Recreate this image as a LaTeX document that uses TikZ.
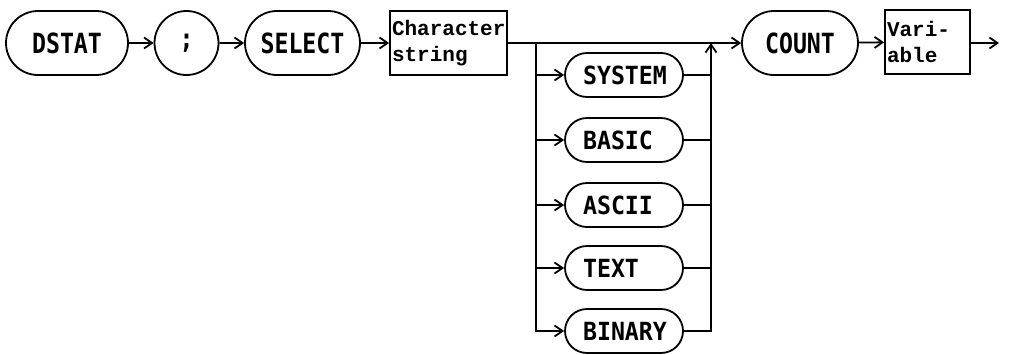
\documentclass[tikz,border=0pt]{standalone}
\usepackage{fontspec}
\usepackage{graphicx}
\setmonofont{Liberation Mono}
\newfontfamily\labfont{DejaVu Sans Mono}
\usetikzlibrary{arrows.meta,shapes.misc}
\newcommand\mainlab[1]{\scalebox{0.86}[1.03]{#1}}
\newcommand\optlab[1]{\scalebox{0.93}[1]{#1}}
\tikzset{
  term/.style={rounded rectangle, draw, minimum height=64pt, inner sep=0pt,
    font=\labfont\bfseries\fontsize{27}{27}\selectfont},
  opt/.style={rounded rectangle, draw, minimum width=118pt, minimum height=44pt,
    inner sep=0pt, text width=82pt, align=left,
    font=\labfont\bfseries\fontsize{25}{25}\selectfont},
  vbox/.style={rectangle, draw, minimum height=64pt, inner xsep=2pt, inner ysep=0pt,
    align=left, font=\ttfamily\bfseries\fontsize{21}{26}\selectfont},
  flow/.style={-{Straight Barb[length=8pt,width=11pt]}},
}
\begin{document}
\begin{tikzpicture}[x=1pt,y=-1pt,line width=1.8pt]
\useasboundingbox[fill=white] (0,0) rectangle (1009,354);
% main row
\node[term, minimum width=122pt] (dstat) at (67,43) {\mainlab{DSTAT}};
\node[term, minimum width=57pt] (semi) at (186.5,43) {\mainlab{;}};
\node[term, minimum width=115pt] (select) at (302.5,43) {\mainlab{SELECT}};
\node[vbox, minimum width=117pt, text width=113pt] (cs) at (448.5,43) {Character\\string};
\node[term, minimum width=116pt] (count) at (800,43) {\mainlab{COUNT}};
\node[vbox, minimum width=85pt, text width=81pt] (var) at (927.5,42) {Vari-\\able};
\coordinate (end) at (999,43);
% options
\node[opt] (system) at (624,75) {\optlab{SYSTEM}};
\node[opt] (basic) at (624,140) {\optlab{BASIC}};
\node[opt] (ascii) at (624,205) {\optlab{ASCII}};
\node[opt] (text) at (624,268) {\optlab{TEXT}};
\node[opt] (binary) at (624,331) {\optlab{BINARY}};
\coordinate (bl) at (536,43);
\coordinate (br) at (711,43);
% connectors
\draw[flow] (dstat) -- (semi);
\draw[flow] (semi) -- (select);
\draw[flow] (select) -- (cs);
\draw[flow] (cs) -- (count);
\draw[flow] (count) -- (var);
\draw[flow] (var.east |- end) -- (end);
\draw[flow] (bl) |- (binary.west);
\draw[flow] (bl |- system.west) -- (system.west);
\draw[flow] (bl |- basic.west) -- (basic.west);
\draw[flow] (bl |- ascii.west) -- (ascii.west);
\draw[flow] (bl |- text.west) -- (text.west);
\draw[flow] (binary.east) -| (br);
\draw (system.east) -- (br |- system.east);
\draw (basic.east) -- (br |- basic.east);
\draw (ascii.east) -- (br |- ascii.east);
\draw (text.east) -- (br |- text.east);
\end{tikzpicture}
\end{document}
